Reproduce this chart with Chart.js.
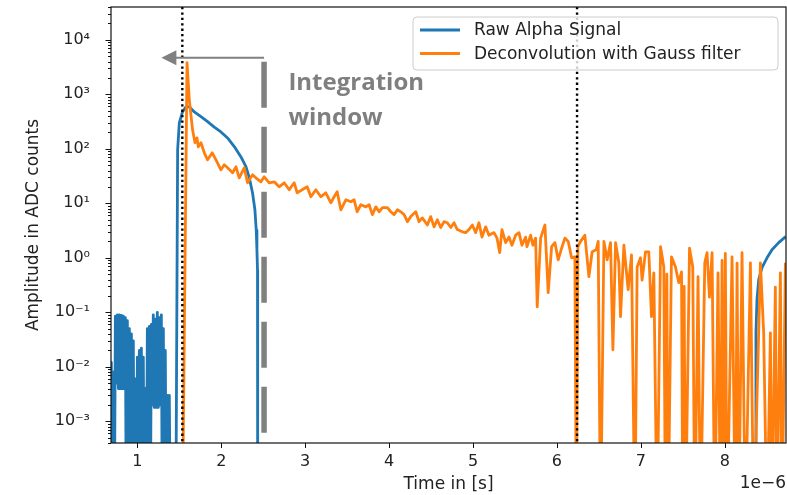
<!DOCTYPE html>
<html>
<head>
<meta charset="utf-8">
<script src="https://cdn.jsdelivr.net/npm/chart.js@4.4.0/dist/chart.umd.min.js"></script>
<style>
html,body{margin:0;padding:0;background:#fff;}
#wrap{width:787px;height:495px;position:relative;}
</style>
</head>
<body>
<div id="wrap"><canvas id="c" width="787" height="495"></canvas></div>
<script>
// ---- Data (time in units of 1e-6 s, amplitude in ADC counts) ----
// values of 1e-5 stand for negative samples (below the log axis)
const rawT = [0.685,0.690,0.702,0.714,0.726,0.738,0.750,0.762,0.774,0.786,0.798,0.810,0.821,0.833,0.845,0.857,0.869,0.881,0.893,0.905,0.917,0.929,0.940,0.952,0.964,0.976,0.988,1.000,1.012,1.024,1.036,1.048,1.060,1.071,1.083,1.095,1.107,1.119,1.131,1.143,1.155,1.167,1.179,1.190,1.202,1.214,1.226,1.238,1.250,1.262,1.274,1.286,1.298,1.310,1.321,1.333,1.345,1.357,1.369,1.381,1.393,
  1.458,1.480,1.500,1.539,1.580,1.619,1.679,1.758,1.837,1.917,1.996,2.075,2.155,2.235,2.294,2.333,2.373,2.401,2.417,2.425,2.432,2.434,
  8.365,8.372,8.384,8.405,8.444,8.504,8.563,8.643,8.726];
const rawV = [0.007,0.012,1e-5,0.008,1e-5,0.085,0.005,0.09,0.004,0.09,0.004,0.088,0.004,0.085,0.004,0.08,1e-5,0.07,1e-5,0.05,1e-5,0.04,1e-5,0.03,1e-5,0.006,1e-5,0.015,1e-5,0.02,1e-5,0.022,1e-5,0.015,1e-5,0.004,1e-5,0.05,1e-5,0.055,1e-5,0.06,0.002,0.09,0.0018,0.075,0.0018,0.1,0.0018,0.08,0.002,0.09,1e-5,0.05,1e-5,0.02,1e-5,0.003,1e-5,0.003,1e-5,
  1e-5,95,300,480,590,590,475,390,316,250,204,158,110,71,47,30,15.5,7.6,3.2,1.4,0.6,1e-5,
  1e-5,0.042,0.17,0.4,0.66,1.0,1.41,1.9,2.45];

const decT = [1.536,1.592,1.619,1.658,1.687,1.711,1.726,1.758,1.798,1.837,1.893,1.937,1.996,2.036,2.075,2.135,2.175,2.214,2.274,2.313,2.373,2.413,2.473,2.512,2.571,2.631,2.690,2.750,2.810,2.869,2.905,2.964,3.024,3.068,3.127,3.187,3.246,3.306,3.345,3.381,3.425,3.485,3.544,3.583,3.619,3.663,3.723,3.762,3.801,3.842,3.881,3.920,3.980,4.020,4.060,4.099,4.139,4.179,4.218,4.258,4.318,4.357,4.396,4.456,4.496,4.536,4.575,4.615,4.655,4.694,4.735,4.774,4.813,4.873,4.913,4.952,4.992,5.032,5.071,5.107,5.151,5.190,5.250,5.286,5.318,5.345,5.389,5.429,5.464,5.508,5.548,5.583,5.627,5.643,5.687,5.714,5.746,5.765,5.806,5.857,5.896,5.937,5.976,6.015,6.056,6.095,6.135,6.175,6.214,6.232,6.250,6.282,6.333,6.381,6.420,6.468,6.492,6.520,6.560,6.599,6.639,6.667,6.699,6.738,6.758,6.798,6.849,6.889,6.929,6.956,6.996,7.015,7.056,7.095,7.127,7.155,7.194,7.235,7.274,7.294,7.310,7.325,7.365,7.413,7.452,7.485,7.500,7.516,7.532,7.580,7.619,7.643,7.682,7.711,7.762,7.789,7.818,7.849,7.881,7.920,7.949,7.968,7.988,8.007,8.027,8.087,8.127,8.147,8.167,8.206,8.246,8.306,8.345,8.425,8.464,8.504,8.544,8.563,8.603,8.622,8.663,8.682,8.723];
const decV = [1e-5,3830,793,223,129,159,109,129,84.5,62.9,84.5,62.9,41.2,50.9,44.8,36.3,46.7,29.4,44.8,23.8,33.3,29.4,24.8,30.6,23.8,24.8,20.1,23.8,17.7,23.8,15.6,17.7,20.1,13.2,17.7,13.2,15.6,10.2,13.2,16.3,7.6,11.6,10.7,11.6,7.0,9.4,8.6,9.4,6.2,8.6,7.0,8.3,8.3,7.0,6.2,7.6,7.0,6.2,4.6,5.7,7.0,4.6,5.4,4.0,5.7,3.7,5.0,3.6,4.6,4.4,3.6,4.4,3.3,3.0,2.9,3.3,4.0,2.9,4.4,2.4,3.7,2.6,2.9,2.3,1.24,3.3,1.9,2.4,1.7,2.6,2.9,1.7,2.4,1.6,2.6,1.7,2.3,0.126,2.3,4.0,0.23,1.6,1.9,0.92,1.5,2.3,2.0,1.0,1.04,1e-5,1.6,2.0,2.6,0.45,1.29,1.4,2.0,1e-5,2.0,0.92,1.9,0.0205,1.9,0.81,0.083,1.7,0.26,1.13,1e-5,0.68,1.0,0.39,1.29,1.29,0.083,0.53,1e-5,1.6,0.68,1e-5,0.5,1e-5,1.04,0.68,0.35,0.55,1e-5,0.3,1e-5,1.5,0.68,1e-5,0.45,1e-5,0.81,1.24,0.19,1.24,1e-5,0.53,1e-5,0.9,1e-5,1.2,1e-5,1.04,1e-5,0.8,1e-5,1.24,1e-5,0.81,1e-5,0.81,0.042,1e-5,0.042,1e-5,0.29,1e-5,0.53,1e-5,0.81];

const seriesNames = ['Raw Alpha Signal', 'Deconvolution with Gauss filter'];
const seriesColors = ['#1f77b4', '#ff7f0e'];
const xTicks = [1, 2, 3, 4, 5, 6, 7, 8];
const xTickLabels = ['1', '2', '3', '4', '5', '6', '7', '8'];
const yDecades = [1e-3, 1e-2, 1e-1, 1, 10, 100, 1000, 10000];
const yTickLabels = ['10\u207B\u00B3', '10\u207B\u00B2', '10\u207B\u00B9', '10\u2070', '10\u00B9', '10\u00B2', '10\u00B3', '10\u2074'];
const windowEdges = [1.536, 6.24];       // dotted vertical lines
const integrationEnd = 2.51;             // grey dashed marker
const dashRange = [4.98e-4, 3945];
const arrowTipT = 1.286;
const arrowLevel = 4700;
const noteT = 2.80;
const noteLevels = [1210, 275];
const noteLines = ['Integration', 'window'];

const xMin = 0.686, xMax = 8.73, yMin = 4.0e-4, yMax = 4.0e4;

const overlay = {
  id: 'overlay',
  afterDatasetsDraw(chart) {
    const {ctx, chartArea: a, scales: {x, y}} = chart;
    ctx.save();
    // dotted window lines
    ctx.save();
    ctx.beginPath(); ctx.rect(a.left, a.top, a.right - a.left, a.bottom - a.top); ctx.clip();
    ctx.strokeStyle = '#000'; ctx.lineWidth = 2.4; ctx.setLineDash([2.3, 3.1]);
    windowEdges.forEach(t => {
      const px = x.getPixelForValue(t);
      ctx.beginPath(); ctx.moveTo(px, a.top); ctx.lineTo(px, a.bottom); ctx.stroke();
    });
    ctx.restore();
    // frame
    ctx.setLineDash([]);
    ctx.strokeStyle = '#111'; ctx.lineWidth = 1.2;
    ctx.strokeRect(a.left, a.top, a.right - a.left, a.bottom - a.top);
    // y ticks
    ctx.lineWidth = 1;
    y.ticks.forEach(tk => {
      const py = Math.round(y.getPixelForValue(tk.value)) + 0.5;
      const len = yDecades.includes(tk.value) ? 5.5 : 3;
      ctx.beginPath(); ctx.moveTo(a.left - len, py); ctx.lineTo(a.left, py); ctx.stroke();
    });
    // x ticks
    x.ticks.forEach(tk => {
      const px = Math.round(x.getPixelForValue(tk.value)) + 0.5;
      ctx.beginPath(); ctx.moveTo(px, a.bottom); ctx.lineTo(px, a.bottom + 5); ctx.stroke();
    });
    // offset text
    ctx.fillStyle = '#222';
    ctx.font = '17px "DejaVu Sans"';
    ctx.textAlign = 'right'; ctx.textBaseline = 'middle';
    ctx.fillText('1e\u22126', a.right, a.bottom + 41);

    // legend
    const lx = 413, ly = 17, lw = 365, lh = 53;
    ctx.beginPath();
    if (ctx.roundRect) ctx.roundRect(lx, ly, lw, lh, 4); else ctx.rect(lx, ly, lw, lh);
    ctx.fillStyle = 'rgba(255,255,255,0.8)'; ctx.fill();
    ctx.strokeStyle = '#cccccc'; ctx.lineWidth = 1; ctx.stroke();
    ctx.font = '17px "DejaVu Sans"'; ctx.textAlign = 'left'; ctx.textBaseline = 'middle';
    seriesNames.forEach((name, i) => {
      const ry = ly + 13 + i * 23.5;
      ctx.strokeStyle = seriesColors[i]; ctx.lineWidth = 2.8;
      ctx.beginPath(); ctx.moveTo(lx + 7, ry); ctx.lineTo(lx + 47, ry); ctx.stroke();
      ctx.fillStyle = '#222';
      ctx.fillText(name, lx + 61, ry + 1);
    });

    // integration window marker (grey)
    const gx = x.getPixelForValue(integrationEnd);
    ctx.strokeStyle = '#808080'; ctx.lineWidth = 5.5; ctx.setLineDash([46, 19]);
    ctx.beginPath(); ctx.moveTo(gx, y.getPixelForValue(dashRange[1])); ctx.lineTo(gx, y.getPixelForValue(dashRange[0])); ctx.stroke();
    ctx.setLineDash([]);
    const ay = y.getPixelForValue(arrowLevel);
    const tip = x.getPixelForValue(arrowTipT);
    ctx.lineWidth = 2;
    ctx.beginPath(); ctx.moveTo(gx, ay); ctx.lineTo(tip + 12, ay); ctx.stroke();
    ctx.fillStyle = '#808080';
    ctx.beginPath(); ctx.moveTo(tip, ay); ctx.lineTo(tip + 15, ay - 7.5); ctx.lineTo(tip + 15, ay + 7.5); ctx.closePath(); ctx.fill();
    ctx.fillStyle = '#7f7f7f';
    ctx.font = 'bold 24px "Open Sans"'; ctx.textAlign = 'left'; ctx.textBaseline = 'alphabetic';
    noteLines.forEach((s, i) => ctx.fillText(s, x.getPixelForValue(noteT), y.getPixelForValue(noteLevels[i])));
    ctx.restore();
  }
};

const mk = (ts, vs) => ts.map((t, i) => ({x: t, y: vs[i]}));

new Chart(document.getElementById('c'), {
  type: 'line',
  data: {
    datasets: [
      {label: seriesNames[0], data: mk(rawT, rawV), borderColor: seriesColors[0], borderWidth: 2.8,
       pointRadius: 0, tension: 0, clip: 0, order: 1, borderJoinStyle: 'round'},
      {label: seriesNames[1], data: mk(decT, decV), borderColor: seriesColors[1], borderWidth: 2.8,
       pointRadius: 0, tension: 0, clip: 0, order: 0, borderJoinStyle: 'round'}
    ]
  },
  options: {
    responsive: false, animation: false, devicePixelRatio: 1,
    layout: {padding: {top: 7, right: 1, left: 0, bottom: 0}},
    plugins: {legend: {display: false}, tooltip: {enabled: false}},
    scales: {
      x: {
        type: 'linear', min: xMin, max: xMax,
        afterBuildTicks: s => { s.ticks = xTicks.map(v => ({value: v})); },
        afterFit: s => { s.height = 52; s.paddingLeft = 0; s.paddingRight = 0; },
        ticks: {callback: (v, i) => xTickLabels[i], font: {family: 'DejaVu Sans', size: 16}, color: '#222',
                padding: 1, maxRotation: 0, autoSkip: false},
        grid: {display: false}, border: {display: false},
        title: {display: true, text: 'Time in [s]', font: {family: 'DejaVu Sans', size: 17}, color: '#222',
                padding: {top: 0, bottom: 0}}
      },
      y: {
        type: 'logarithmic', min: yMin, max: yMax,
        afterBuildTicks: s => {
          const t = [];
          [1e-4].concat(yDecades).forEach(d => {
            for (let m = 1; m <= 9; m++) {
              const v = m === 1 ? d : d * m;
              if (v >= yMin && v <= yMax) t.push({value: v});
            }
          });
          s.ticks = t;
        },
        afterFit: s => { s.width = 111; s.paddingTop = 0; s.paddingBottom = 0; },
        ticks: {
          callback: v => { const k = yDecades.indexOf(v); return k >= 0 ? yTickLabels[k] : ''; },
          font: {family: 'DejaVu Sans', size: 16}, color: '#222', padding: 13, autoSkip: false
        },
        grid: {display: false}, border: {display: false},
        title: {display: true, text: 'Amplitude in ADC counts', font: {family: 'DejaVu Sans', size: 17}, color: '#222',
                padding: {top: 23, bottom: 0}}
      }
    }
  },
  plugins: [overlay]
});
</script>
</body>
</html>
